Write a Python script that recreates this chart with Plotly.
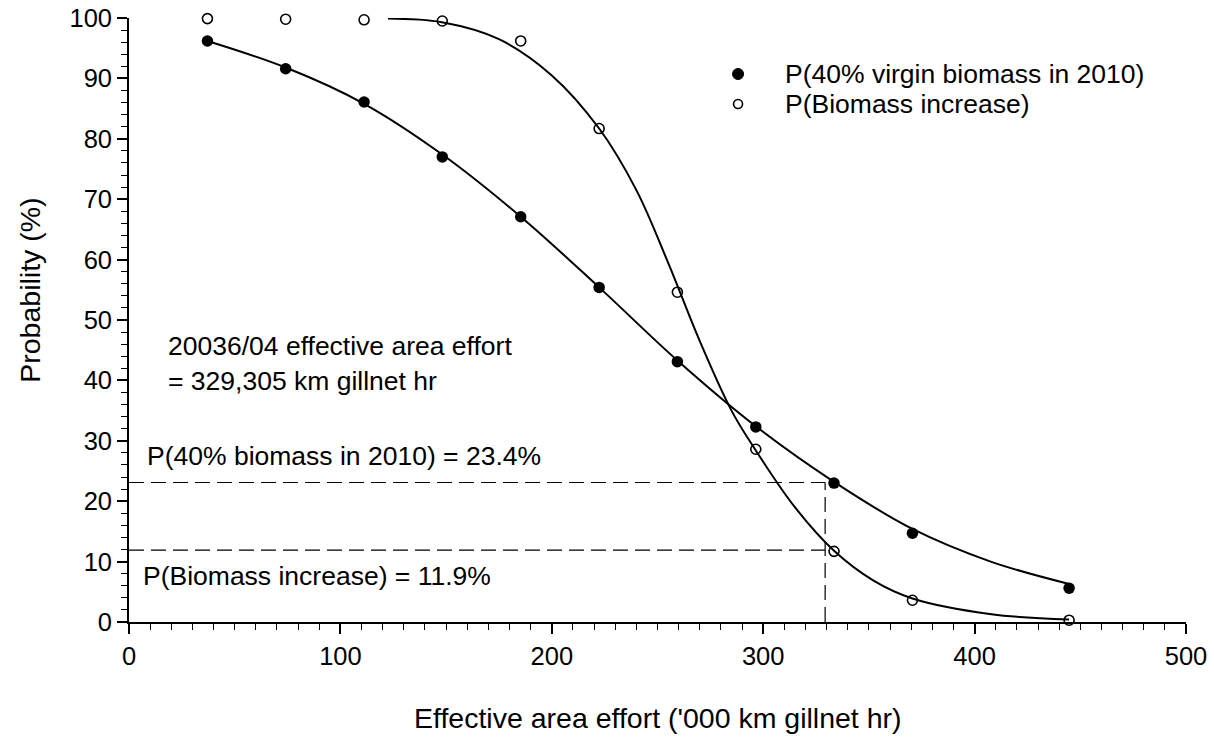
import plotly.graph_objects as go

# ---- data ----
effort = [37.1, 74.1, 111.2, 148.2, 185.3, 222.4, 259.4, 296.5, 333.5, 370.6, 444.7]
p_virgin40 = [96.2, 91.6, 86.1, 77.0, 67.1, 55.4, 43.1, 32.3, 23.0, 14.7, 5.6]
p_increase = [99.9, 99.8, 99.7, 99.5, 96.2, 81.7, 54.6, 28.6, 11.7, 3.6, 0.3]

# fitted curves
fit_v40_x = [37.1, 74.1, 111.2, 148.2, 185.3, 222.4, 259.4, 296.5, 333.5, 370.6, 407.6, 444.7]
fit_v40_y = [96.2, 91.8, 85.8, 77.4, 67.1, 55.4, 43.3, 32.4, 23.2, 15.4, 10.0, 6.3]
fit_inc_x = [122.5, 148, 175, 200, 222.4, 240, 255, 270, 285, 296.5, 315, 333.5, 352, 370.6, 408, 444.7]
fit_inc_y = [99.9, 99.3, 96.5, 90.5, 81.7, 71.5, 59.5, 46.5, 35.0, 28.4, 19.0, 11.8, 6.9, 3.9, 1.3, 0.4]

current_effort = 329.3
p40_at_current = 23.1
pinc_at_current = 11.9

x_ticks = [0, 100, 200, 300, 400, 500]
y_ticks = [0, 10, 20, 30, 40, 50, 60, 70, 80, 90, 100]

legend_labels = ["P(40% virgin biomass in 2010)", "P(Biomass increase)"]

FONT = "Arial, Liberation Sans, sans-serif"

fig = go.Figure()

# fitted lines
fig.add_trace(go.Scatter(x=fit_v40_x, y=fit_v40_y, mode="lines",
                         line=dict(color="black", width=2, shape="spline", smoothing=1.0),
                         showlegend=False, hoverinfo="skip"))
fig.add_trace(go.Scatter(x=fit_inc_x, y=fit_inc_y, mode="lines",
                         line=dict(color="black", width=2, shape="spline", smoothing=1.0),
                         showlegend=False, hoverinfo="skip"))

# reference dashed lines
dash = "15px,7px"
fig.add_trace(go.Scatter(x=[0, current_effort], y=[p40_at_current, p40_at_current], mode="lines",
                         line=dict(color="black", width=1.2, dash=dash), showlegend=False, hoverinfo="skip"))
fig.add_trace(go.Scatter(x=[0, current_effort], y=[pinc_at_current, pinc_at_current], mode="lines",
                         line=dict(color="black", width=1.2, dash=dash), showlegend=False, hoverinfo="skip"))
fig.add_trace(go.Scatter(x=[current_effort, current_effort], y=[0, p40_at_current], mode="lines",
                         line=dict(color="black", width=1.2, dash=dash), showlegend=False, hoverinfo="skip"))

# data points
fig.add_trace(go.Scatter(x=effort, y=p_virgin40, mode="markers", name=legend_labels[0],
                         marker=dict(symbol="circle", size=11.5, color="black"), cliponaxis=False,
                         showlegend=False))
fig.add_trace(go.Scatter(x=effort, y=p_increase, mode="markers", name=legend_labels[1],
                         marker=dict(symbol="circle-open", size=10, color="black", line=dict(width=1.6)),
                         cliponaxis=False, showlegend=False))

ann_font = dict(family=FONT, size=26.5, color="black")
annotations = [
    dict(x=17.7, y=45.7, text="20036/04 effective area effort", xanchor="left", yanchor="middle",
         showarrow=False, font=ann_font),
    dict(x=17.7, y=39.9, text="= 329,305 km gillnet hr", xanchor="left", yanchor="middle",
         showarrow=False, font=ann_font),
    dict(x=7.8, y=27.5, text="P(40% biomass in 2010) = 23.4%", xanchor="left", yanchor="middle",
         showarrow=False, font=ann_font),
    dict(x=5.9, y=7.6, text="P(Biomass increase) = 11.9%", xanchor="left", yanchor="middle",
         showarrow=False, font=ann_font),
    # axis titles
    dict(xref="paper", yref="paper", x=-0.0937, y=0.55, text="Probability (%)", textangle=-90,
         xanchor="center", yanchor="middle", showarrow=False,
         font=dict(family=FONT, size=28.5, color="black")),
    dict(xref="paper", yref="paper", x=0.5, y=-0.159, text="Effective area effort ('000 km gillnet hr)",
         xanchor="center", yanchor="middle", showarrow=False,
         font=dict(family=FONT, size=28.5, color="black")),
    # legend labels
    dict(xref="paper", yref="paper", x=0.6187, y=0.9073, text=legend_labels[0],
         xanchor="left", yanchor="middle", showarrow=False, font=ann_font),
    dict(xref="paper", yref="paper", x=0.6187, y=0.8576, text=legend_labels[1],
         xanchor="left", yanchor="middle", showarrow=False, font=ann_font),
]

# legend keys
shapes = [
    dict(type="circle", xref="paper", yref="paper", xsizemode="pixel", ysizemode="pixel",
         xanchor=0.5762, yanchor=0.9073, x0=-5.5, x1=5.5, y0=-5.5, y1=5.5,
         fillcolor="black", line=dict(color="black", width=1)),
    dict(type="circle", xref="paper", yref="paper", xsizemode="pixel", ysizemode="pixel",
         xanchor=0.5762, yanchor=0.8576, x0=-4.5, x1=4.5, y0=-4.5, y1=4.5,
         fillcolor="white", line=dict(color="black", width=1.6)),
]

fig.update_layout(
    width=1214, height=738,
    margin=dict(l=129, r=28, t=18, b=116, autoexpand=False),
    paper_bgcolor="white", plot_bgcolor="white",
    font=dict(family=FONT, color="black"),
    annotations=annotations,
    shapes=shapes,
    showlegend=False,
    xaxis=dict(range=[0, 500], tickvals=x_ticks, ticks="outside", ticklen=10, tickwidth=1.6,
               tickcolor="black", showline=True, linecolor="black", linewidth=1.8,
               showgrid=False, zeroline=False, tickfont=dict(family=FONT, size=25.5),
               automargin=False,
               minor=dict(dtick=10, ticks="outside", ticklen=6, tickwidth=1.3, tickcolor="black")),
    yaxis=dict(range=[0, 100], tickvals=y_ticks, ticks="outside", ticklen=10, tickwidth=1.6,
               tickcolor="black", showline=True, linecolor="black", linewidth=1.8,
               showgrid=False, zeroline=False, tickfont=dict(family=FONT, size=25.5),
               automargin=False,
               minor=dict(dtick=2, ticks="outside", ticklen=6, tickwidth=1.3, tickcolor="black")),
)

fig.write_html("out.html")
